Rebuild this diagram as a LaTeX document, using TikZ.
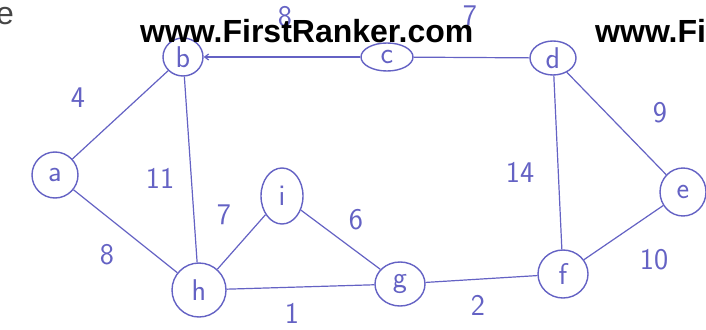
\documentclass[tikz,border=0pt]{standalone}
\usepackage{fontspec}
\newfontfamily\wmfont{Liberation Sans}
\usetikzlibrary{arrows.meta,shapes.geometric}
\definecolor{ink}{RGB}{100,98,196}
\definecolor{wmgray}{RGB}{70,70,70}
\begin{document}
\begin{tikzpicture}[x=1pt,y=-1pt,font=\sffamily]
\tikzset{
  vtx/.style={draw=ink,ellipse,line width=1.4pt,inner sep=0pt,text=ink,font=\sffamily\fontsize{30}{30}\selectfont},
  wt/.style={text=ink,inner sep=0pt,font=\sffamily\fontsize{30}{30}\selectfont},
  edge/.style={draw=ink,line width=1.2pt},
  wmark/.style={inner sep=0pt,anchor=base west,font=\wmfont\bfseries\fontsize{32}{32}\selectfont}
}
\useasboundingbox[fill=white] (0,0) rectangle (706,329);
% vertices
\node(a)[vtx,minimum width=46pt,minimum height=46pt] at (55,175){a};
\node(b)[vtx,minimum width=40pt,minimum height=38pt] at (183,57){b};
\node(c)[vtx,minimum width=52pt,minimum height=28pt] at (387,57){c};
\node(d)[vtx,minimum width=46pt,minimum height=34pt] at (553,58){d};
\node(e)[vtx,minimum width=46pt,minimum height=48pt] at (683,192){e};
\node(f)[vtx,minimum width=50pt,minimum height=48pt] at (563,274){f};
\node(g)[vtx,minimum width=50pt,minimum height=44pt] at (400,284){g};
\node(h)[vtx,minimum width=54pt,minimum height=54pt] at (199,290){h};
\node(i)[vtx,minimum width=42pt,minimum height=56pt] at (282,196){i};
% edges
\draw[edge](a)--(b); \draw[edge](a)--(h); \draw[edge](b)--(h);
\draw[edge,-{Straight Barb[length=4pt,width=6pt]}](c)--(b);
\draw[edge](c)--(d); \draw[edge](d)--(e); \draw[edge](d)--(f);
\draw[edge](e)--(f); \draw[edge](f)--(g); \draw[edge](g)--(h);
\draw[edge](h)--(i); \draw[edge](i)--(g);
% weights
\node(wab)[wt] at (78,98){4};
\node(wah)[wt] at (107,255){8};
\node(wbh)[wt] at (160,178){11};
\node(wbc)[wt] at (285,17){8};
\node(wcd)[wt] at (470,16){7};
\node(wde)[wt] at (660,113){9};
\node(wdf)[wt] at (520,172){14};
\node(wef)[wt] at (654,260){10};
\node(wfg)[wt] at (478,305){2};
\node(wgh)[wt] at (292,313){1};
\node(whi)[wt] at (224,215){7};
\node(wgi)[wt] at (356,220){6};
% page text
\node(cut)[wmark,font=\wmfont\fontsize{32}{32}\selectfont,text=wmgray] at (-4,25){e};
\node(wm1)[wmark] at (140,43){www.FirstRanker.com};
\node(wm2)[wmark] at (595,43){www.Fi};
\end{tikzpicture}
\end{document}
